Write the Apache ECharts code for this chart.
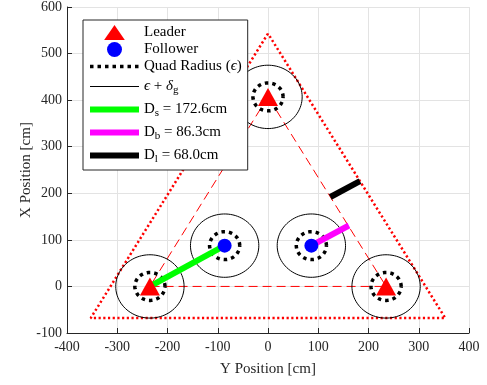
<!DOCTYPE html>
<html>
<head>
<meta charset="utf-8">
<script src="https://cdn.jsdelivr.net/npm/echarts@6/dist/echarts.min.js"></script>
<style>html,body{margin:0;padding:0;background:#fff}#c{width:487px;height:385px}</style>
</head>
<body>
<div id="c"></div>
<script>
// ---- data (horizontal = "Y Position", vertical = "X Position") ----
const leaderH = [0, -235, 235];
const leaderV = [407, 0, 0];
const followerH = [-86.3, 86.3];
const followerV = [87.6, 87.6];
const quadRadius = 30;        // epsilon
const safeRadius = 68;        // epsilon + delta_g
const outerTriH = [0, -352.8, 352.8, 0];
const outerTriV = [543, -68, -68, 543];
const innerTriH = [0, -235, 235, 0];
const innerTriV = [407, 0, 0, 407];
const dsH = [-235, -86.3], dsV = [0, 87.6];
const dbH = [86.3, 161.0], dbV = [87.6, 130.8];
const dlH = [124.1, 183.0], dlV = [192.0, 226.0];

const zip = (a, b) => a.map((v, i) => [v, b[i]]);
const agents = zip(leaderH, leaderV).concat(zip(followerH, followerV));

const FONT = '"Liberation Serif", "DejaVu Serif", serif';
const N_QUAD = 'Quad Radius (ϵ)', N_SAFE = 'ϵ + δg', N_DS = 'Ds = 172.6cm', N_DB = 'Db = 86.3cm', N_DL = 'Dl = 68.0cm';

function circleSeries(name, radius, style, z) {
  return {
    type: 'custom', name: name, coordinateSystem: 'cartesian2d', z: z, silent: true,
    data: agents.map(p => [p[0], p[1], radius]),
    encode: { x: 0, y: 1 },
    renderItem: function (params, api) {
      const cx = api.value(0), cy = api.value(1), r = api.value(2);
      const pts = [];
      for (let k = 0; k <= 90; k++) {
        const a = 2 * Math.PI * k / 90;
        pts.push(api.coord([cx + r * Math.cos(a), cy + r * Math.sin(a)]));
      }
      return { type: 'polyline', shape: { points: pts }, style: Object.assign({ fill: null }, style) };
    }
  };
}

const hidden = { opacity: 0, color: 'rgba(0,0,0,0)', borderWidth: 0 };
const axisCommon = {
  nameLocation: 'middle', nameMoveOverlap: false,
  nameTextStyle: { fontFamily: FONT, fontSize: 15, color: '#262626' },
  axisLine: { onZero: false, lineStyle: { color: '#262626', width: 1 } },
  axisTick: { inside: true, length: 5, lineStyle: { color: '#262626' } },
  splitLine: { show: true, lineStyle: { color: '#e3e3e3', width: 1 } }
};
const subRowText = { lineHeight: 16, padding: [2, 0, 3, 0] };

const chart = echarts.init(document.getElementById('c'), null, { renderer: 'canvas' });
chart.setOption({
  animation: false,
  grid: { left: 67, right: 18, top: 7, bottom: 52 },
  xAxis: Object.assign({
    type: 'value', min: -400, max: 400, interval: 100,
    name: 'Y Position [cm]', nameGap: 29,
    axisLabel: { fontFamily: FONT, fontSize: 14, color: '#262626', margin: 7 }
  }, axisCommon),
  yAxis: Object.assign({
    type: 'value', min: -100, max: 600, interval: 100,
    name: 'X Position [cm]', nameGap: 33,
    axisLabel: { fontFamily: FONT, fontSize: 14, color: '#262626', margin: 5 }
  }, axisCommon),
  legend: {
    orient: 'vertical', left: 83, top: 20, padding: [5, 6, 4, 4],
    itemWidth: 49, itemHeight: 15, itemGap: 2, symbolKeepAspect: true,
    backgroundColor: '#fff', borderColor: '#262626', borderWidth: 1, borderRadius: 0,
    selectedMode: false,
    textStyle: {
      fontFamily: FONT, fontSize: 15, color: '#000',
      rich: {
        n: { fontFamily: FONT, fontSize: 15, color: '#000' },
        it: { fontFamily: FONT, fontSize: 15, color: '#000', fontStyle: 'italic' },
        sub: { fontFamily: FONT, fontSize: 11, color: '#000', padding: [8, 0, 0, 0] }
      }
    },
    formatter: function (name) {
      if (name === N_QUAD) return '{n|Quad Radius (}{it|ϵ}{n|)}';
      if (name === N_SAFE) return '{it|ϵ}{n| + }{it|δ}{sub|g}';
      if (name === N_DS) return '{n|D}{sub|s}{n| = 172.6cm}';
      if (name === N_DB) return '{n|D}{sub|b}{n| = 86.3cm}';
      if (name === N_DL) return '{n|D}{sub|l}{n| = 68.0cm}';
      return '{n|' + name + '}';
    },
    data: [
      { name: 'Leader', icon: 'path://M0,29L20,0L40,29Z', itemStyle: { color: '#ff0000' } },
      { name: 'Follower', icon: 'circle', itemStyle: { color: '#0000ff' } },
      { name: N_QUAD, itemStyle: hidden, lineStyle: { color: '#000', width: 3.5, type: [3.5, 4] } },
      { name: N_SAFE, itemStyle: hidden, textStyle: subRowText, lineStyle: { color: '#000', width: 1, type: 'solid' } },
      { name: N_DS, itemStyle: hidden, textStyle: subRowText, lineStyle: { color: '#00ff00', width: 6, type: 'solid' } },
      { name: N_DB, itemStyle: hidden, textStyle: subRowText, lineStyle: { color: '#ff00ff', width: 6, type: 'solid' } },
      { name: N_DL, itemStyle: hidden, textStyle: subRowText, lineStyle: { color: '#000000', width: 6, type: 'solid' } }
    ]
  },
  series: [
    // legend-icon carriers (empty)
    { type: 'line', name: N_QUAD, data: [], symbol: 'none',
      lineStyle: { color: '#000', width: 3.5, type: [3.5, 4] }, itemStyle: { color: '#000' } },
    { type: 'line', name: N_SAFE, data: [], symbol: 'none',
      lineStyle: { color: '#000', width: 1 }, itemStyle: { color: '#000' } },
    // outer dotted triangle
    { type: 'line', data: zip(outerTriH, outerTriV), symbol: 'none', z: 2, silent: true,
      lineStyle: { color: '#ff0000', width: 2.5, type: [2.2, 2.5] } },
    // inner dashed triangle
    { type: 'line', data: zip(innerTriH, innerTriV), symbol: 'none', z: 2, silent: true,
      lineStyle: { color: '#ff0000', width: 1, type: [9, 5] } },
    circleSeries(N_SAFE, safeRadius, { stroke: '#000', lineWidth: 1 }, 3),
    circleSeries(N_QUAD, quadRadius, { stroke: '#000', lineWidth: 3.5, lineDash: [3.5, 4] }, 3),
    { type: 'line', name: N_DS, data: zip(dsH, dsV), symbol: 'none', z: 4,
      lineStyle: { color: '#00ff00', width: 6 }, itemStyle: { color: '#00ff00' } },
    { type: 'line', name: N_DB, data: zip(dbH, dbV), symbol: 'none', z: 4,
      lineStyle: { color: '#ff00ff', width: 6 }, itemStyle: { color: '#ff00ff' } },
    { type: 'line', name: N_DL, data: zip(dlH, dlV), symbol: 'none', z: 4,
      lineStyle: { color: '#000000', width: 6 }, itemStyle: { color: '#000000' } },
    { type: 'scatter', name: 'Leader', data: zip(leaderH, leaderV), symbol: 'triangle',
      symbolSize: [20, 18], z: 5, itemStyle: { color: '#ff0000', opacity: 1 } },
    { type: 'scatter', name: 'Follower', data: zip(followerH, followerV), symbol: 'circle',
      symbolSize: 14, z: 5, itemStyle: { color: '#0000ff', opacity: 1 } }
  ]
});
</script>
</body>
</html>
